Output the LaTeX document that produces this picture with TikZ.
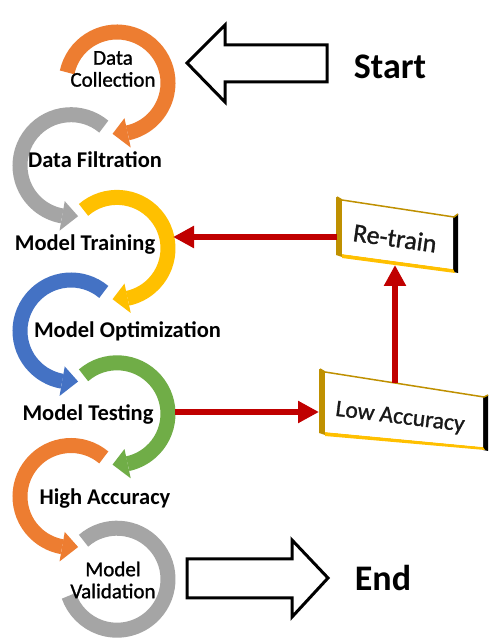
\documentclass[tikz,border=0pt]{standalone}
\usepackage{fontspec}
\setmainfont{Carlito}
\newfontfamily\medfont[FakeBold=1.2]{Carlito}
\usetikzlibrary{arrows.meta,calc}
\definecolor{cOrange}{HTML}{ED7D31}
\definecolor{cGray}{HTML}{A5A5A5}
\definecolor{cYellow}{HTML}{FFC000}
\definecolor{cBlue}{HTML}{4472C4}
\definecolor{cGreen}{HTML}{70AD47}
\definecolor{cRed}{HTML}{C00000}
\definecolor{cGold}{HTML}{BF9000}
\newcommand{\ringarc}[5]{%
  \draw[ring,#2] ($(#1)+(#3:51)$) arc[start angle=#3, end angle=#4, radius=51];
  \fill[#2] ($(#1)+(#4:36)$) -- ($(#1)+(#4:66)$) -- ($(#1)+(#5:51)$) -- cycle;}
\tikzset{
  ring/.style={line width=15pt},
  lbl/.style={font=\fontsize{22.5}{24}\selectfont\bfseries, inner sep=0pt},
  lblr/.style={font=\fontsize{21}{22}\medfont, align=center, inner sep=0pt},
  big/.style={font=\fontsize{36}{40}\selectfont\bfseries, inner sep=0pt},
  bigarrow/.style={draw=black, line width=3pt, fill=white, line join=miter},
  redarrow/.style={draw=cRed, line width=5.5pt, -{Triangle[length=21pt,width=21pt]}},
  boxtxt/.style={inner sep=0pt, text=black!90},
}
\begin{document}
\begin{tikzpicture}[x=1pt,y=1pt]
\useasboundingbox (0,0) rectangle (489,641);
\fill[white] (0,0) rectangle (489,641);
% ring centres
\coordinate (r1) at (117,558);
\coordinate (r2) at (71,475.3);
\coordinate (r3) at (117,392.6);
\coordinate (r4) at (71,310);
\coordinate (r5) at (117,227.2);
\coordinate (r6) at (71,144.5);
\coordinate (r7) at (117,61.8);
% rings
\ringarc{r1}{cOrange}{168}{-78}{-95}
\ringarc{r2}{cGray}{50}{260}{278}
\ringarc{r3}{cYellow}{131}{-78}{-95}
\ringarc{r4}{cBlue}{50}{260}{278}
\ringarc{r5}{cGreen}{131}{-78}{-95}
\ringarc{r6}{cOrange}{50}{260}{278}
\draw[ring,cGray] ($(r7)+(131:51)$) arc[start angle=131, end angle=-161, radius=51];
% labels
\node[lblr] (dc) at (113,572) {Data\\Collection};
\node[lbl] (df) at (95,481) {Data Filtration};
\node[lbl] (mt) at (85,396) {Model Training};
\node[lbl] (mo) at (127.5,310) {Model Optimization};
\node[lbl] (mte) at (88,227) {Model Testing};
\node[lbl] (ha) at (105,142) {High Accuracy};
\node[lblr] (mv) at (113,61) {Model\\Validation};
% start / end arrows
\draw[bigarrow] (187,578) -- (225,616) -- (225,596) -- (327,596) -- (327,559) -- (225,559) -- (225,539) -- cycle;
\node[big] (start) at (390,574) {Start};
\draw[bigarrow] (187,82) -- (292,82) -- (292,101) -- (328,63) -- (292,24) -- (292,43) -- (187,43) -- cycle;
\node[big] (endlbl) at (383,63) {End};
% Re-train box
\fill[cGold] (336,444) -- (342,441) -- (342,384) -- (336,386) -- cycle;
\fill[black] (453,424) -- (458,427) -- (458,368) -- (453,369) -- cycle;
\fill[cYellow] (342,387) -- (453,372) -- (455,368) -- (342,383) -- cycle;
\fill[white] (342,441) -- (453,424) -- (453,372) -- (342,387) -- cycle;
\draw[cGold, line width=1.5pt] (337,444) -- (342,441) -- (454,424) -- (458,427);
\node[boxtxt, font=\fontsize{26}{28}\medfont, rotate=-8] (retrain) at (395,403) {Re-train};
% Low Accuracy box
\fill[cGold] (319,272) -- (325,269) -- (325,206) -- (319,208) -- cycle;
\fill[black] (483,244) -- (488,246) -- (488,190) -- (483,191) -- cycle;
\fill[cYellow] (325,209) -- (483,194) -- (485,191) -- (325,205) -- cycle;
\fill[white] (325,269) -- (483,244) -- (483,194) -- (325,209) -- cycle;
\draw[cGold, line width=1.5pt] (320,272) -- (325,269) -- (484,244) -- (488,246);
\node[boxtxt, font=\fontsize{23.5}{25}\medfont, rotate=-7] (lowacc) at (400,223) {Low Accuracy};
% connector end points
\coordinate (rtL) at (337,404);
\coordinate (mtR) at (173,404);
\coordinate (mteR) at (175,229);
\coordinate (laL) at (319,229);
\coordinate (laT) at (395,258);
\coordinate (rtB) at (395,376);
\draw[redarrow] (rtL) -- (mtR);
\draw[redarrow] (mteR) -- (laL);
\draw[redarrow] (laT) -- (rtB);
\end{tikzpicture}
\end{document}
